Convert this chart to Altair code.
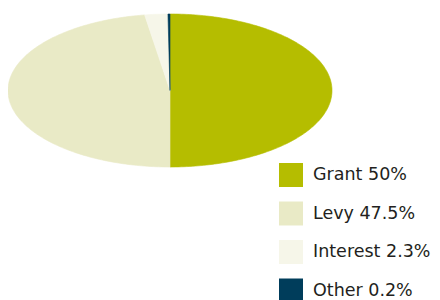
import altair as alt
import numpy as np
import pandas as pd

categories = ["Grant", "Levy", "Interest", "Other"]
shares = [50.0, 47.5, 2.3, 0.2]
labels = ["Grant 50%", "Levy 47.5%", "Interest 2.3%", "Other 0.2%"]
colors = ["#b5bd00", "#e9eac6", "#f6f6e9", "#003d5b"]

# Build each slice as a polygon (center + arc points), clockwise from 12 o'clock
rows = []
total = sum(shares)
start = 0.0
for i, (lab, s) in enumerate(zip(labels, shares)):
    a0 = start / total * 2 * np.pi
    a1 = (start + s) / total * 2 * np.pi
    start += s
    n = max(2, int(np.ceil((a1 - a0) / (2 * np.pi) * 360))) + 1
    rows.append(dict(label=lab, k=0, x=0.0, y=0.0))
    for j, t in enumerate(np.linspace(a0, a1, n)):
        rows.append(dict(label=lab, k=j + 1, x=float(np.sin(t)), y=float(np.cos(t))))
    rows.append(dict(label=lab, k=n + 1, x=0.0, y=0.0))
df = pd.DataFrame(rows)

color_scale = alt.Scale(domain=labels, range=colors)

chart = (
    alt.Chart(df)
    .mark_line(strokeWidth=0.6, interpolate="linear")
    .encode(
        x=alt.X("x:Q", scale=alt.Scale(domain=[-1, 1], range=[0, 324]), axis=None),
        y=alt.Y("y:Q", scale=alt.Scale(domain=[-1, 1], range=[159, 6]), axis=None),
        detail="label:N",
        order="k:Q",
        fill=alt.Fill(
            "label:N",
            scale=color_scale,
            sort=labels,
            legend=alt.Legend(
                title=None,
                orient="none",
                legendX=271,
                legendY=155,
                symbolType="square",
                symbolSize=576,
                symbolStrokeWidth=0,
                symbolOpacity=1,
                labelFont="DejaVu Sans",
                labelFontSize=17.5,
                labelColor="#231f20",
                labelOffset=10,
                rowPadding=14.5,
                padding=0,
            ),
        ),
        stroke=alt.Stroke("label:N", scale=color_scale, sort=labels, legend=None),
    )
    .properties(width=424, height=292, padding=0, autosize="none")
    .configure_view(stroke=None)
)

chart.save("out.html", embed_options={"renderer": "svg", "actions": False})
